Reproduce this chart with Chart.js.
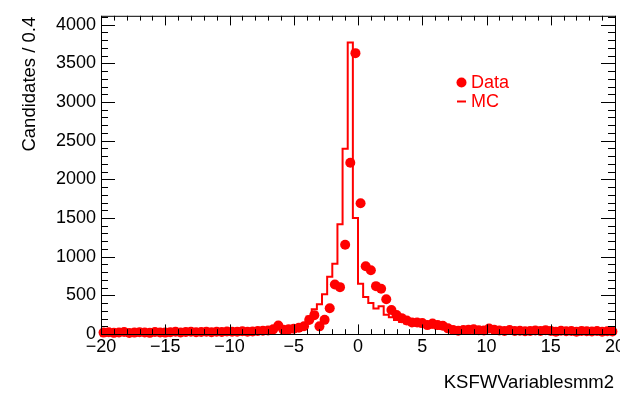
<!DOCTYPE html>
<html>
<head>
<meta charset="utf-8">
<script src="https://cdn.jsdelivr.net/npm/chart.js@4/dist/chart.umd.min.js"></script>
<style>
    html, body { margin: 0; padding: 0; background: #fff; }
    canvas { display: block; }
</style>
</head>
<body>
<canvas id="mm2Chart" width="620" height="394"></canvas>
<script>
/* =========================================================
   KSFW mm2 - DATA vs MC (bin 0.4, -20 .. 20)
   ========================================================= */

/* ================= BINNING ================= */
const BIN_MIN = -20;
const BIN_MAX = 20;
const BIN_WIDTH = 0.4;

/* ================= DATA (candidates per bin) ================= */
const dataCounts = [
    18, 22, 15, 20, 25, 12, 18, 22, 20, 15,
    25, 20, 18, 22, 28, 20, 25, 30, 22, 26,
    28, 24, 30, 26, 32, 28, 30, 35, 30, 32,
    38, 42, 45, 60, 110, 55, 60, 68, 80, 100,
    180, 244, 99, 183, 333, 641, 606, 1154, 2214, 3632,
    1692, 876, 824, 619, 586, 449, 310, 245, 205, 175,
    150, 148, 141, 115, 135, 115, 106, 73, 51, 42,
    51, 55, 62, 48, 45, 70, 55, 45, 40, 52,
    38, 42, 35, 40, 45, 38, 50, 40, 30, 42,
    35, 38, 30, 40, 35, 32, 38, 30, 35, 32
];

/* ================= MC (histogram) ================= */
const mcCounts = [
    15, 15, 18, 16, 18, 20, 18, 20, 22, 20,
    22, 24, 22, 25, 24, 26, 25, 28, 27, 30,
    28, 30, 32, 30, 34, 33, 36, 35, 38, 40,
    42, 45, 48, 52, 58, 62, 70, 78, 85, 100,
    130, 227, 321, 385, 513, 740, 910, 1420, 2395, 3770,
    1500, 650, 480, 400, 330, 360, 250, 215, 180, 155,
    135, 120, 108, 98, 88, 80, 72, 66, 60, 56,
    52, 50, 47, 45, 43, 41, 40, 38, 37, 36,
    35, 34, 33, 32, 32, 31, 30, 30, 29, 28,
    28, 27, 27, 26, 26, 25, 25, 24, 24, 23
];

/* ================= AXES ================= */
const xTickValues = [-20, -15, -10, -5, 0, 5, 10, 15, 20];
const xTickLabels = ['\u221220', '\u221215', '\u221210', '\u22125', '0', '5', '10', '15', '20'];
const yTickValues = [0, 500, 1000, 1500, 2000, 2500, 3000, 3500, 4000];
const yTickLabels = ['0', '500', '1000', '1500', '2000', '2500', '3000', '3500', '4000'];
const Y_MAX = 4115;
const Y_STEP = 500;

const xTitle = 'KSFWVariablesmm2';
const yTitle = 'Candidates / 0.4';

const RED = '#ff0000';
const FONT = '"Liberation Sans", Arial, Helvetica, sans-serif';

/* ================= POINTS ================= */
const dataPoints = dataCounts.map((v, i) => ({
    x: BIN_MIN + BIN_WIDTH * (i + 0.5),
    y: v
}));

// step line: one point per lower bin edge + closing edge
const mcPoints = mcCounts.map((v, i) => ({
    x: BIN_MIN + BIN_WIDTH * i,
    y: v
}));
mcPoints.push({ x: BIN_MAX, y: mcCounts[mcCounts.length - 1] });

/* =========================================================
   ROOT STYLE FRAME: box, inner ticks, x labels, titles, legend
   ========================================================= */
const rootFrame = {
    id: 'rootFrame',
    afterDraw(chart) {
        const { ctx, chartArea: a, scales: { x, y } } = chart;
        ctx.save();

        ctx.strokeStyle = '#000';
        ctx.lineWidth = 1;
        ctx.strokeRect(a.left + 0.5, a.top + 0.5, a.right - a.left, a.bottom - a.top);

        // x ticks (bottom + top)
        ctx.beginPath();
        for (let v = BIN_MIN; v <= BIN_MAX; v++) {
            const px = Math.round(x.getPixelForValue(v)) + 0.5;
            const len = (v % 5 === 0) ? 9.6 : 4.8;
            ctx.moveTo(px, a.bottom);
            ctx.lineTo(px, a.bottom - len);
            ctx.moveTo(px, a.top);
            ctx.lineTo(px, a.top + len);
        }
        // y ticks (left + right)
        for (let v = 0; v <= Y_MAX; v += Y_STEP / 5) {
            const py = Math.round(y.getPixelForValue(v)) + 0.5;
            const len = (v % Y_STEP === 0) ? 14 : 7;
            ctx.moveTo(a.left, py);
            ctx.lineTo(a.left + len, py);
            ctx.moveTo(a.right, py);
            ctx.lineTo(a.right - len, py);
        }
        ctx.stroke();

        // x tick labels
        ctx.fillStyle = '#000';
        ctx.font = `18px ${FONT}`;
        ctx.textAlign = 'center';
        ctx.textBaseline = 'alphabetic';
        xTickValues.forEach((v, i) => {
            ctx.fillText(xTickLabels[i], x.getPixelForValue(v), 352);
        });

        // axis titles
        ctx.font = `18.5px ${FONT}`;
        ctx.textAlign = 'right';
        ctx.fillText(xTitle, a.right - 1, 388);

        ctx.save();
        ctx.translate(35, a.top + 1);
        ctx.rotate(-Math.PI / 2);
        ctx.textAlign = 'right';
        ctx.fillText(yTitle, 0, 0);
        ctx.restore();

        // legend
        const ds = chart.data.datasets;
        ctx.fillStyle = RED;
        ctx.strokeStyle = RED;
        ctx.font = `18px ${FONT}`;
        ctx.textAlign = 'left';

        ctx.beginPath();
        ctx.arc(461.5, 82.5, 5, 0, Math.PI * 2);
        ctx.fill();
        ctx.fillText(ds[0].label, 471, 88);

        ctx.lineWidth = 2;
        ctx.beginPath();
        ctx.moveTo(457, 101.5);
        ctx.lineTo(466, 101.5);
        ctx.stroke();
        ctx.fillText(ds[1].label, 471, 107);

        ctx.restore();
    }
};

/* ================= CHART ================= */
new Chart(document.getElementById('mm2Chart'), {
    data: {
        datasets: [
            {
                type: 'scatter',
                label: 'Data',
                data: dataPoints,
                backgroundColor: RED,
                borderWidth: 0,
                pointRadius: 5,
                pointHoverRadius: 5,
                clip: false
            },
            {
                type: 'line',
                label: 'MC',
                data: mcPoints,
                stepped: 'after',
                borderColor: RED,
                borderWidth: 2,
                pointRadius: 0,
                fill: false
            }
        ]
    },
    options: {
        responsive: false,
        animation: false,
        devicePixelRatio: 1,
        layout: { padding: { top: 13, right: 2, left: 0, bottom: 0 } },
        plugins: {
            legend: { display: false },
            tooltip: { enabled: false }
        },
        scales: {
            x: {
                type: 'linear',
                min: BIN_MIN,
                max: BIN_MAX,
                grid: { display: false, drawTicks: false },
                border: { display: false },
                ticks: { display: false },
                afterFit: s => { s.height = 60; }
            },
            y: {
                type: 'linear',
                min: 0,
                max: Y_MAX,
                grid: { display: false, drawTicks: false },
                border: { display: false },
                afterBuildTicks: s => {
                    s.ticks = yTickValues.map(v => ({ value: v }));
                },
                ticks: {
                    color: '#000',
                    padding: 5,
                    font: { family: FONT, size: 18 },
                    callback: (v, i) => yTickLabels[i]
                },
                afterFit: s => { s.width = 101; }
            }
        }
    },
    plugins: [rootFrame]
});
</script>
</body>
</html>
